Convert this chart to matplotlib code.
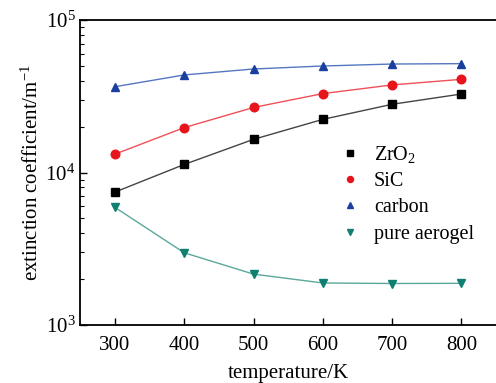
import matplotlib
matplotlib.use("Agg")
import matplotlib.pyplot as plt
from matplotlib.ticker import LogLocator, NullFormatter, FixedLocator

plt.rcParams['font.family'] = ['Liberation Serif', 'DejaVu Serif']
plt.rcParams['mathtext.fontset'] = 'custom'
plt.rcParams['mathtext.rm'] = 'Liberation Serif'
plt.rcParams['mathtext.it'] = 'Liberation Serif:italic'

temperature = [300, 400, 500, 600, 700, 800]
zro2 = [7450, 11300, 16500, 22300, 28000, 32700]
sic = [13200, 19700, 26700, 32900, 37500, 40800]
carbon = [36500, 43600, 47700, 49900, 51400, 51700]
aerogel = [5910, 2980, 2160, 1890, 1875, 1880]

series = [
    ("ZrO$_2$", zro2, 's', '#000000', '#444444'),
    ("SiC", sic, 'o', '#e8141c', '#f05058'),
    ("carbon", carbon, '^', '#1a3f9e', '#5577c0'),
    ("pure aerogel", aerogel, 'v', '#0e7f70', '#5aa89c'),
]

fig = plt.figure(figsize=(4.96, 3.83), dpi=100)
ax = fig.add_axes([0.162, 0.151, 0.838, 0.797])

for label, vals, mk, mc, lc in series:
    ax.plot(temperature, vals, color=lc, lw=1.0, zorder=1)
    ax.plot(temperature, vals, ls='none', marker=mk, ms=6.2, color=mc,
            mec=mc, label=label, zorder=2)

ax.set_yscale('log')
ax.set_xlim(250, 850)
ax.set_ylim(1e3, 1e5)
ax.xaxis.set_major_locator(FixedLocator(temperature))
ax.yaxis.set_major_locator(LogLocator(base=10, numticks=5))
ax.yaxis.set_minor_locator(LogLocator(base=10, subs=range(2, 10), numticks=20))
ax.yaxis.set_minor_formatter(NullFormatter())

ax.tick_params(axis='both', which='major', direction='in', length=5, width=1,
               labelsize=15)
ax.tick_params(axis='y', which='minor', direction='in', length=3, width=0.8)
ax.tick_params(axis='x', pad=8)
for s in ['left', 'bottom', 'top']:
    ax.spines[s].set_linewidth(1.3)
ax.spines['right'].set_visible(False)

ax.set_xlabel('temperature/K', fontsize=15, labelpad=6)
ax.set_ylabel('extinction coefficient/m$^{-1}$', fontsize=15, labelpad=2)

leg = ax.legend(loc='center left', bbox_to_anchor=(0.6, 0.43), frameon=False,
                fontsize=14.5, handlelength=1.0, handletextpad=0.7,
                labelspacing=0.35, borderpad=0, markerscale=0.7)

fig.savefig('out.png', dpi=100)
